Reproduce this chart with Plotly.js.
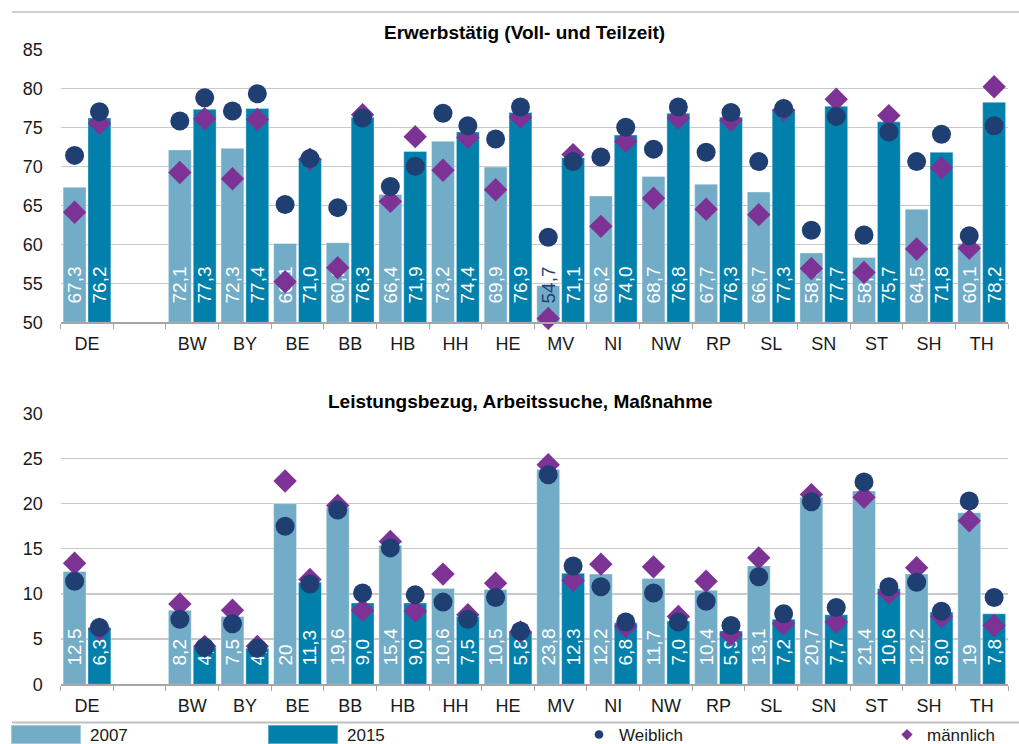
<!DOCTYPE html>
<html>
<head>
<meta charset="utf-8">
<script src="https://cdn.plot.ly/plotly-3.0.1.min.js"></script>
<style>html,body{margin:0;padding:0;background:#fff;}#chart{width:1019px;height:744px;}</style>
</head>
<body>
<div id="chart"></div>
<script>
// ---------- data ----------
const categories = ['DE',' ','BW','BY','BE','BB','HB','HH','HE','MV','NI','NW','RP','SL','SN','ST','SH','TH'];

// Erwerbstätig (Voll- und Teilzeit)
const erw2007 = [67.3,null,72.1,72.3,60.1,60.2,66.4,73.2,69.9,54.7,66.2,68.7,67.7,66.7,58.9,58.3,64.5,60.1];
const erw2015 = [76.2,null,77.3,77.4,71.0,76.3,71.9,74.4,76.9,71.1,74.0,76.8,76.3,77.3,77.7,75.7,71.8,78.2];
const erwLabels2007 = ['67,3','','72,1','72,3','60,1','60,2','66,4','73,2','69,9','54,7','66,2','68,7','67,7','66,7','58,9','58,3','64,5','60,1'];
const erwLabels2015 = ['76,2','','77,3','77,4','71,0','76,3','71,9','74,4','76,9','71,1','74,0','76,8','76,3','77,3','77,7','75,7','71,8','78,2'];
const erwWeiblich2007 = [71.4,null,75.8,77.1,65.1,64.7,67.4,76.8,73.5,60.9,71.2,72.2,71.8,70.6,61.8,61.2,70.6,61.1];
const erwWeiblich2015 = [77.0,null,78.8,79.3,71.0,76.2,70.0,75.2,77.6,70.6,75.0,77.6,76.9,77.4,76.4,74.4,74.1,75.2];
const erwMaennlich2007 = [64.1,null,69.2,68.4,55.2,57.0,65.5,69.5,67.0,50.5,62.3,65.9,64.5,63.8,56.9,56.4,59.4,59.5];
const erwMaennlich2015 = [75.5,null,76.1,76.0,70.9,76.6,73.8,73.7,76.3,71.5,73.2,76.2,75.9,77.2,78.6,76.5,69.8,80.2];

// Leistungsbezug, Arbeitssuche, Maßnahme
const lei2007 = [12.5,null,8.2,7.5,20,19.6,15.4,10.6,10.5,23.8,12.2,11.7,10.4,13.1,20.7,21.4,12.2,19];
const lei2015 = [6.3,null,4.1,4.0,11.3,9.0,9.0,7.5,5.8,12.3,6.8,7.0,5.9,7.2,7.7,10.6,8.0,7.8];
const leiLabels2007 = ['12,5','','8,2','7,5','20','19,6','15,4','10,6','10,5','23,8','12,2','11,7','10,4','13,1','20,7','21,4','12,2','19'];
const leiLabels2015 = ['6,3','','4,1','4,0','11,3','9,0','9,0','7,5','5,8','12,3','6,8','7,0','5,9','7,2','7,7','10,6','8,0','7,8'];
const leiWeiblich2007 = [11.4,null,7.2,6.7,17.5,19.3,15.1,9.1,9.6,23.2,10.8,10.1,9.2,11.9,20.2,22.4,11.3,20.3];
const leiWeiblich2015 = [6.3,null,4.1,4.0,11.1,10.1,9.9,7.2,5.9,13.1,6.9,6.9,6.5,7.8,8.5,10.8,8.1,9.6];
const leiMaennlich2007 = [13.4,null,8.9,8.2,22.5,19.8,15.8,12.2,11.2,24.3,13.3,13.0,11.4,14.0,21.0,20.7,12.9,18.1];
const leiMaennlich2015 = [6.1,null,4.2,4.2,11.6,8.2,8.1,7.7,5.8,11.5,6.4,7.5,5.5,6.7,6.9,10.1,7.5,6.5];

const titles = ['Erwerbstätig (Voll- und Teilzeit)', 'Leistungsbezug, Arbeitssuche, Maßnahme'];
const seriesNames = ['2007', '2015', 'Weiblich', 'männlich'];

// ---------- style ----------
const FONT = 'Liberation Sans, Arial, sans-serif';
const C07 = '#72ACC6';
const C15 = '#0080AA';
const CW = '#1F3F72';
const CM = '#7D3395';
const TOP_BASE = 50;   // axis minimum of the upper chart, bars start here
const LABEL_PAD = '\u00A0\u00A0\u00A0'; // keeps value labels a little above the bar base

function bars(name, vals, labels, color, group, xa, ya, base, legend, show, textColors) {
  return {
    type: 'bar', name: name, x: categories,
    y: base ? vals.map(v => v == null ? null : v - base) : vals,
    base: base || undefined,
    xaxis: xa, yaxis: ya, offsetgroup: group, legend: legend, showlegend: show,
    marker: {color: color, line: {color: 'rgba(255,255,255,0.35)', width: 1}},
    text: labels, texttemplate: LABEL_PAD + '%{text}',
    textposition: 'inside', insidetextanchor: 'start',
    textangle: -90, constraintext: 'none', cliponaxis: true,
    textfont: {family: FONT, size: 19, color: textColors || '#ffffff'},
    hoverinfo: 'skip'
  };
}
function points(name, vals, symbol, size, color, group, xa, ya, legend, show) {
  return {
    type: 'scatter', mode: 'markers', name: name, x: categories, y: vals,
    xaxis: xa, yaxis: ya, offsetgroup: group, legend: legend, showlegend: show,
    marker: {symbol: symbol, size: size, color: color, line: {width: 0}},
    cliponaxis: false, hoverinfo: 'skip'
  };
}

const topText07 = erw2007.map((v, i) => categories[i] === 'MV' ? CW : '#ffffff');

const traces = [
  bars(seriesNames[0], erw2007, erwLabels2007, C07, 'a', 'x', 'y', TOP_BASE, 'legend', true, topText07),
  bars(seriesNames[1], erw2015, erwLabels2015, C15, 'b', 'x', 'y', TOP_BASE, 'legend2', true),
  bars(seriesNames[0], lei2007, leiLabels2007, C07, 'a', 'x2', 'y2', 0, 'legend', false),
  bars(seriesNames[1], lei2015, leiLabels2015, C15, 'b', 'x2', 'y2', 0, 'legend2', false),
  points(seriesNames[3], erwMaennlich2007, 'diamond', 18, CM, 'a', 'x', 'y', 'legend4', true),
  points(seriesNames[3], erwMaennlich2015, 'diamond', 18, CM, 'b', 'x', 'y', 'legend4', false),
  points(seriesNames[3], leiMaennlich2007, 'diamond', 18, CM, 'a', 'x2', 'y2', 'legend4', false),
  points(seriesNames[3], leiMaennlich2015, 'diamond', 18, CM, 'b', 'x2', 'y2', 'legend4', false),
  points(seriesNames[2], erwWeiblich2007, 'circle', 19, CW, 'a', 'x', 'y', 'legend3', true),
  points(seriesNames[2], erwWeiblich2015, 'circle', 19, CW, 'b', 'x', 'y', 'legend3', false),
  points(seriesNames[2], leiWeiblich2007, 'circle', 19, CW, 'a', 'x2', 'y2', 'legend3', false),
  points(seriesNames[2], leiWeiblich2015, 'circle', 19, CW, 'b', 'x2', 'y2', 'legend3', false)
];

const W = 1019, H = 744;
const xDomain = [60.7 / W, 1008 / W];
function xAxis(anchor) {
  return {
    domain: xDomain, anchor: anchor, type: 'category',
    categoryorder: 'array', categoryarray: categories,
    tickson: 'boundaries', ticks: 'outside', ticklen: 5, tickwidth: 1, tickcolor: '#A6A6A6',
    showline: true, linecolor: '#A6A6A6', linewidth: 1.5,
    showgrid: false, zeroline: false, automargin: false,
    tickfont: {family: FONT, size: 18, color: '#1a1a1a'}, ticklabelstandoff: 5,
    fixedrange: true
  };
}
function yAxis(anchor, domain, range) {
  return {
    domain: domain, anchor: anchor, range: range, dtick: 5, tick0: 0,
    showgrid: true, gridcolor: '#C8C8C8', gridwidth: 1.3, zeroline: false,
    showline: false, ticks: '', automargin: false, ticklabelstandoff: 17,
    tickfont: {family: FONT, size: 18, color: '#1a1a1a'}, fixedrange: true
  };
}
function legendAt(xPix, itemwidth) {
  return {
    x: xPix / W, xanchor: 'left', y: 1 - 735 / H, yanchor: 'middle',
    orientation: 'h', itemwidth: itemwidth, itemsizing: 'constant',
    bgcolor: 'rgba(0,0,0,0)', borderwidth: 0,
    font: {family: FONT, size: 17, color: '#1a1a1a'}
  };
}

const layout = {
  width: W, height: H,
  margin: {l: 0, r: 0, t: 0, b: 0, pad: 0, autoexpand: false},
  paper_bgcolor: '#ffffff', plot_bgcolor: '#ffffff',
  font: {family: FONT, color: '#1a1a1a'},
  barmode: 'group', bargap: 0.055, bargroupgap: 0.08,
  scattermode: 'group', scattergap: 0.055,
  xaxis: xAxis('y'),
  yaxis: yAxis('x', [1 - 322.3 / H, 1 - 49.3 / H], [50, 85]),
  xaxis2: xAxis('y2'),
  yaxis2: yAxis('x2', [1 - 684.3 / H, 1 - 413.3 / H], [0, 30]),
  legend: legendAt(2, 78),
  legend2: legendAt(259, 78),
  legend3: legendAt(579, 30),
  legend4: legendAt(887, 30),
  annotations: [
    {text: '<b>' + titles[0] + '</b>', xref: 'paper', yref: 'paper', x: 524 / W, y: 1 - 33 / H,
     xanchor: 'center', yanchor: 'middle', showarrow: false, font: {family: FONT, size: 19, color: '#000'}},
    {text: '<b>' + titles[1] + '</b>', xref: 'paper', yref: 'paper', x: 520 / W, y: 1 - 401 / H,
     xanchor: 'center', yanchor: 'middle', showarrow: false, font: {family: FONT, size: 19, color: '#000'}}
  ],
  shapes: [
    {type: 'line', xref: 'paper', yref: 'paper', x0: 12 / W, x1: 1, y0: 1 - 12 / H, y1: 1 - 12 / H,
     line: {color: '#BFBFBF', width: 1.5}},
    {type: 'line', xref: 'paper', yref: 'paper', x0: 12 / W, x1: 1, y0: 1 - 722.5 / H, y1: 1 - 722.5 / H,
     line: {color: '#BFBFBF', width: 2}}
  ]
};

// legend keys drawn in the reference's proportions: wide colour blocks, small markers
function styleLegendKeys(gd) {
  gd.querySelectorAll('.legendpoints path').forEach(function (p) {
    if (p.classList.contains('scatterpts')) {
      if (!p.dataset.scaled) {
        p.setAttribute('transform', (p.getAttribute('transform') || '') + ' scale(0.72)');
        p.dataset.scaled = '1';
      }
    } else {
      p.setAttribute('d', 'M35,9.5H-35V-9.5H35Z');
    }
  });
}

Plotly.newPlot('chart', traces, layout, {staticPlot: true, displayModeBar: false}).then(function (gd) {
  styleLegendKeys(gd);
  gd.on('plotly_afterplot', function () { styleLegendKeys(gd); });
});
</script>
</body>
</html>
